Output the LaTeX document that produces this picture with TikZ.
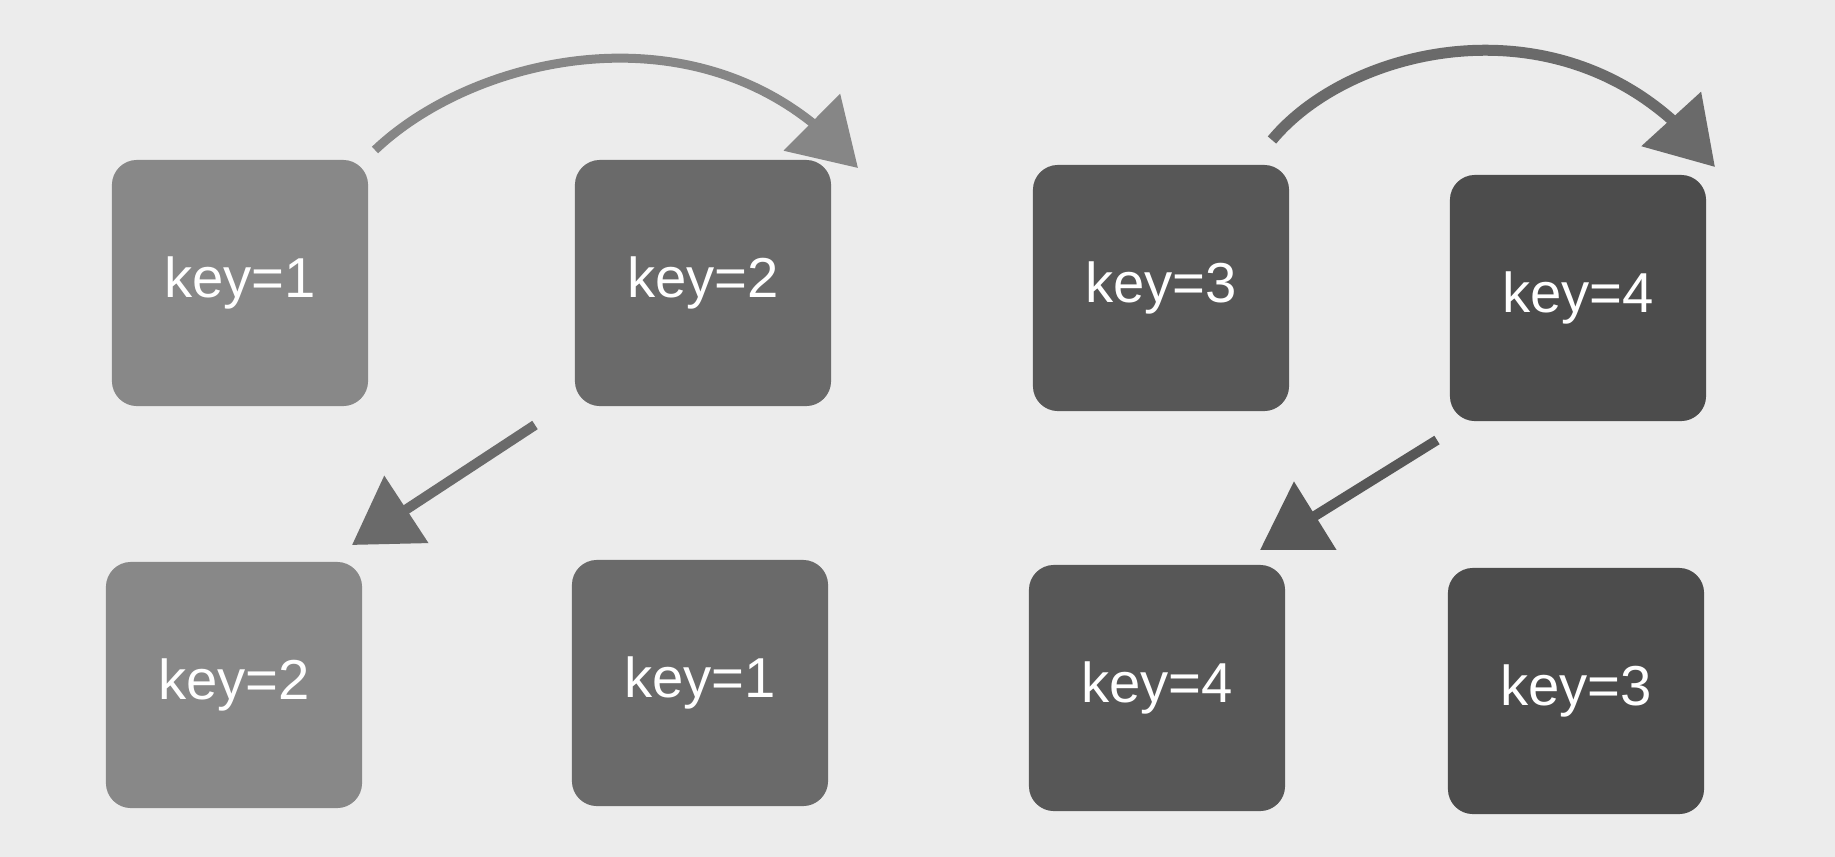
\documentclass[tikz,border=0pt]{standalone}
\usepackage{fontspec}
\setmainfont{Liberation Sans}
\usetikzlibrary{arrows.meta, bending}

\definecolor{paper}{HTML}{ECECEC}
\definecolor{boxlight}{HTML}{888888}
\definecolor{boxmid}{HTML}{6A6A6A}
\definecolor{boxdark}{HTML}{575757}
\definecolor{boxdeep}{HTML}{4C4C4C}

\begin{document}
\begin{tikzpicture}[
    x=0.01cm, y=-0.01cm,
    keybox/.style={rectangle, rounded corners=0.25cm, minimum width=2.56cm, minimum height=2.46cm, inner sep=0pt, text=white, font=\fontsize{16}{19}\selectfont},
    swaparrow/.style={-{Triangle[flex, length=0.65cm, width=0.78cm]}, line width=0.08cm},
]

% ============ Page ============
\fill[paper] (0,0) rectangle (1835,857);
\useasboundingbox (0,0) rectangle (1835,857);

% ============ Before ============
\node[keybox, fill=boxlight] (k1) at (240,283) {key=1};
\node[keybox, fill=boxmid] (k2) at (703,283) {key=2};
\node[keybox, fill=boxdark] (k3) at (1161,288) {key=3};
\node[keybox, fill=boxdeep] (k4) at (1578,298) {key=4};

% ============ After ============
\node[keybox, fill=boxlight] (s2) at (234,685) {key=2};
\node[keybox, fill=boxmid] (s1) at (700,683) {key=1};
\node[keybox, fill=boxdark] (s4) at (1157,688) {key=4};
\node[keybox, fill=boxdeep] (s3) at (1576,691) {key=3};

% arrow ends
\coordinate (a1from) at (375,150);
\coordinate (a1to) at (858,168);
\coordinate (a2from) at (1272,140);
\coordinate (a2to) at (1715,167);
\coordinate (d1from) at (535,425);
\coordinate (d1to) at (352,545);
\coordinate (d2from) at (1437,440);
\coordinate (d2to) at (1260,550);

% ============ Arrows ============
\draw[swaparrow, draw=gray!95, line width=0.09cm] (a1from) .. controls (480,50) and (720,0) .. (a1to);
\draw[swaparrow, draw=boxmid, line width=0.11cm] (a2from) .. controls (1355,40) and (1585,-8) .. (a2to);
\draw[swaparrow, draw=boxmid, line width=0.1cm] (d1from) -- (d1to);
\draw[swaparrow, draw=boxdark, line width=0.1cm] (d2from) -- (d2to);

\end{tikzpicture}
\end{document}
